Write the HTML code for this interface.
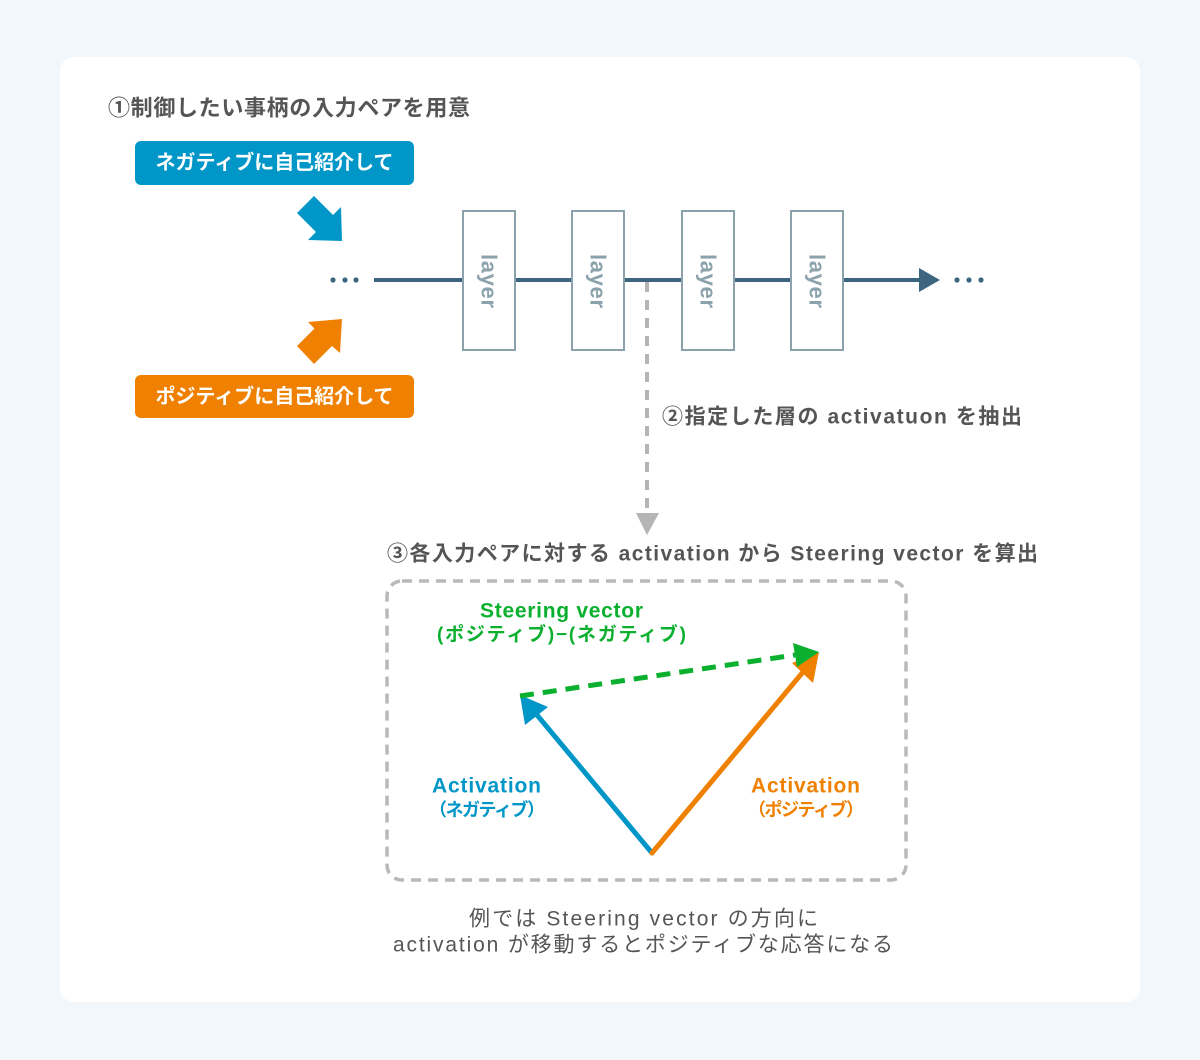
<!DOCTYPE html>
<html>
<head>
<meta charset="utf-8">
<style>
  html,body{margin:0;padding:0;background:#f2f7fb;}
  body{width:1200px;height:1060px;overflow:hidden;}
  svg{display:block;}
  text{font-family:"Liberation Sans","Noto Sans CJK JP",sans-serif;}
</style>
</head>
<body>
<svg width="1200" height="1060" viewBox="0 0 1200 1060" xmlns="http://www.w3.org/2000/svg">
  <rect x="0" y="0" width="1200" height="1060" fill="#f2f7fb"/>
  <rect x="60" y="57" width="1080" height="945" rx="14" ry="14" fill="#ffffff"/>

  <!-- Title 1 -->
  <text x="108" y="108" font-size="22" font-weight="bold" fill="#555555" dominant-baseline="central" textLength="362" lengthAdjust="spacing">①制御したい事柄の入力ペアを用意</text>

  <!-- Negative box -->
  <rect x="135" y="141" width="279" height="44" rx="6" fill="#0096c8"/>
  <text x="274.5" y="163" font-size="20" font-weight="bold" fill="#ffffff" text-anchor="middle" dominant-baseline="central" textLength="238" lengthAdjust="spacing">ネガティブに自己紹介して</text>

  <!-- Positive box -->
  <rect x="135" y="375" width="279" height="43" rx="6" fill="#f08000"/>
  <text x="274.5" y="397" font-size="20" font-weight="bold" fill="#ffffff" text-anchor="middle" dominant-baseline="central" textLength="238" lengthAdjust="spacing">ポジティブに自己紹介して</text>

  <!-- Blue arrow -->
  <polygon points="297,213 314,196 333,215 341,207 342,241 308,240 316,232" fill="#0096c8"/>
  <!-- Orange arrow -->
  <polygon points="297,346 314.5,328.5 308,322 342,319 340,353 332,346 314,364" fill="#f08000"/>

  <!-- left dots -->
  <circle cx="333" cy="280" r="2.6" fill="#3d6580"/>
  <circle cx="345" cy="280" r="2.6" fill="#3d6580"/>
  <circle cx="356" cy="280" r="2.6" fill="#3d6580"/>

  <!-- main line -->
  <line x1="374" y1="280" x2="922" y2="280" stroke="#3d6580" stroke-width="4"/>
  <polygon points="919,268 940,280 919,292" fill="#3d6580"/>

  <!-- right dots -->
  <circle cx="957" cy="280" r="2.6" fill="#3d6580"/>
  <circle cx="969" cy="280" r="2.6" fill="#3d6580"/>
  <circle cx="981" cy="280" r="2.6" fill="#3d6580"/>

  <!-- gray dashed vertical -->
  <line x1="647" y1="282" x2="647" y2="513" stroke="#b5b5b5" stroke-width="4" stroke-dasharray="10 8"/>
  <polygon points="636,513 659,513 647,535" fill="#b5b5b5"/>

  <!-- layer boxes -->
  <g fill="#ffffff" stroke="#8ba1ab" stroke-width="2">
    <rect x="463" y="211" width="52" height="139"/>
    <rect x="572" y="211" width="52" height="139"/>
    <rect x="682" y="211" width="52" height="139"/>
    <rect x="791" y="211" width="52" height="139"/>
  </g>
  <g font-size="22" font-weight="bold" fill="#8ba1ab" text-anchor="middle" dominant-baseline="central">
    <text transform="translate(489,281) rotate(90)" textLength="54" lengthAdjust="spacing">layer</text>
    <text transform="translate(598,281) rotate(90)" textLength="54" lengthAdjust="spacing">layer</text>
    <text transform="translate(708,281) rotate(90)" textLength="54" lengthAdjust="spacing">layer</text>
    <text transform="translate(817,281) rotate(90)" textLength="54" lengthAdjust="spacing">layer</text>
  </g>

  <!-- label 2 -->
  <text x="662" y="417" font-size="21" font-weight="bold" fill="#555555" dominant-baseline="central" textLength="360" lengthAdjust="spacing">②指定した層の activatuon を抽出</text>

  <!-- label 3 -->
  <text x="387" y="554" font-size="21" font-weight="bold" fill="#555555" dominant-baseline="central" textLength="651" lengthAdjust="spacing">③各入力ペアに対する activation から Steering vector を算出</text>

  <!-- dashed box -->
  <rect x="387" y="581" width="519" height="299" rx="15" ry="15" fill="none" stroke="#b9b9b9" stroke-width="3.5" stroke-dasharray="10 7"/>

  <!-- green label -->
  <text x="561.5" y="611" font-size="21" font-weight="bold" fill="#0bb02f" text-anchor="middle" dominant-baseline="central" textLength="163" lengthAdjust="spacing">Steering vector</text>
  <text x="561.5" y="635" font-size="19" font-weight="bold" fill="#0bb02f" text-anchor="middle" dominant-baseline="central" textLength="249" lengthAdjust="spacing">(ポジティブ)−(ネガティブ)</text>

  <!-- blue vector -->
  <line x1="652" y1="853" x2="537" y2="715" stroke="#0096c8" stroke-width="5" stroke-linecap="round"/>
  <polygon points="520,695 548,707 525,725" fill="#0096c8"/>

  <!-- orange vector -->
  <line x1="652" y1="853" x2="803" y2="672" stroke="#f08000" stroke-width="5" stroke-linecap="round"/>
  <polygon points="819,652 792,663 813,683" fill="#f08000"/>

  <!-- green dashed vector -->
  <line x1="520" y1="696" x2="795" y2="655" stroke="#0bb02f" stroke-width="5" stroke-dasharray="14 9"/>
  <polygon points="819,652 793,643 797,667" fill="#0bb02f"/>

  <!-- activation labels -->
  <text x="486.5" y="786" font-size="21" font-weight="bold" fill="#0096c8" text-anchor="middle" dominant-baseline="central" textLength="109" lengthAdjust="spacing">Activation</text>
  <text x="487" y="810" font-size="18" font-weight="bold" fill="#0096c8" text-anchor="middle" dominant-baseline="central" textLength="116" lengthAdjust="spacing">（ネガティブ）</text>

  <text x="805.5" y="786" font-size="21" font-weight="bold" fill="#f08000" text-anchor="middle" dominant-baseline="central" textLength="109" lengthAdjust="spacing">Activation</text>
  <text x="806" y="810" font-size="18" font-weight="bold" fill="#f08000" text-anchor="middle" dominant-baseline="central" textLength="116" lengthAdjust="spacing">（ポジティブ）</text>

  <!-- bottom text -->
  <text x="643.5" y="919" font-size="21" fill="#555555" text-anchor="middle" dominant-baseline="central" textLength="349" lengthAdjust="spacing">例では Steering vector の方向に</text>
  <text x="643" y="945" font-size="21" fill="#555555" text-anchor="middle" dominant-baseline="central" textLength="500" lengthAdjust="spacing">activation が移動するとポジティブな応答になる</text>
</svg>
</body>
</html>
